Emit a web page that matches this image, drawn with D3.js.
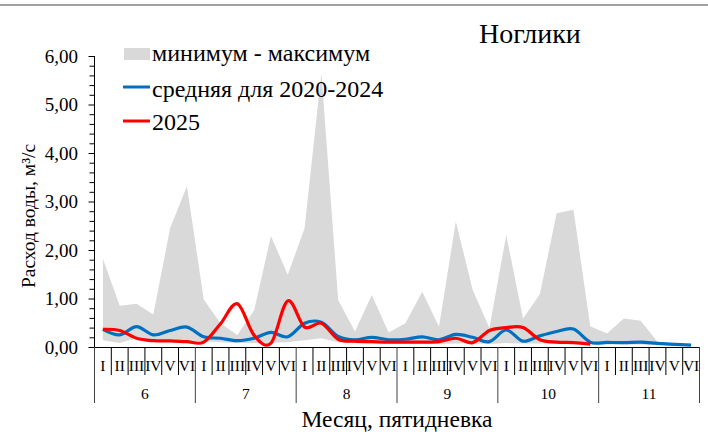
<!DOCTYPE html>
<html><head><meta charset="utf-8">
<script src="https://cdn.jsdelivr.net/npm/d3@7/dist/d3.min.js"></script>
<style>
html,body{margin:0;padding:0;background:#fff;}
svg{display:block;}
text{font-family:"Liberation Serif","Times New Roman",serif;fill:#000;}
</style></head>
<body>
<svg id="chart" width="708" height="436" font-family="Liberation Serif, Times New Roman, serif"></svg>
<script>
const months = ["6","7","8","9","10","11"];
const pentads = ["I","II","III","IV","V","VI"];
const yTicks = [0,1,2,3,4,5,6];
const maxVals = [1.82,0.85,0.89,0.67,2.45,3.32, 0.98,0.49,0.25,0.76,2.29,1.49, 2.45,5.65,0.97,0.32,1.07,0.30, 0.49,1.14,0.42,2.59,1.18,0.39, 2.31,0.59,1.09,2.76,2.83,0.43, 0.28,0.59,0.54,0.11,0.07,0.05];
const minVals = [0.14,0.08,0.18,0.14,0.12,0.10, 0.12,0.10,0.08,0.08,0.09,0.10, 0.14,0.18,0.10,0.08,0.07,0.07, 0.07,0.07,0.06,0.07,0.07,0.06, 0.08,0.07,0.07,0.06,0.06,0.05, 0.05,0.05,0.05,0.04,0.03,0.03];
const meanVals = [0.365,0.25,0.42,0.25,0.34,0.41, 0.21,0.18,0.13,0.18,0.30,0.21, 0.49,0.51,0.22,0.15,0.20,0.15, 0.16,0.21,0.15,0.26,0.20,0.11, 0.35,0.12,0.23,0.32,0.37,0.10, 0.095,0.09,0.10,0.075,0.055,0.04];
const val2025 = [0.365,0.34,0.18,0.13,0.125,0.11, 0.10,0.48,0.89,0.24,0.08,0.95, 0.41,0.49,0.16,0.12,0.11,0.10, 0.10,0.10,0.11,0.18,0.09,0.34, 0.40,0.40,0.15,0.10,0.09,0.06];

const FONT = "'Liberation Serif', 'Times New Roman', serif";
const svg = d3.select("#chart");
const L = 94.5, R = 699.5, T = 56, B = 347;
const n = months.length * pentads.length;
const x = d3.scaleBand().domain(d3.range(n)).range([L, R]).padding(0);
const xc = i => x(i) + x.bandwidth() / 2;
const y = d3.scaleLinear().domain([0, 6]).range([B, T]);

function txt(parent, tx, ty, str, size, anchor) {
  return parent.append("text").attr("x", tx).attr("y", ty)
    .attr("text-anchor", anchor || "start")
    .attr("font-family", FONT)
    .attr("font-size", size).text(str);
}

// top border
svg.append("line").attr("x1",0).attr("x2",708).attr("y1",5).attr("y2",5)
  .attr("stroke","#808080").attr("stroke-width",1.5);

// area
const area = d3.area().x((d,i)=>xc(i)).y0((d,i)=>y(minVals[i])).y1(d=>y(d));
svg.append("path").datum(maxVals).attr("d", area).attr("fill","#d9d9d9");

const line = d3.line().x((d,i)=>xc(i)).y(d=>y(d)).curve(d3.curveCardinal.tension(0));
svg.append("path").datum(meanVals).attr("d", line).attr("fill","none")
  .attr("stroke","#0070c0").attr("stroke-width",3.2).attr("stroke-linejoin","round");
svg.append("path").datum(val2025).attr("d", line).attr("fill","none")
  .attr("stroke","#ff0000").attr("stroke-width",3.2).attr("stroke-linejoin","round");

// y axis
const yAxis = d3.axisLeft(y).tickValues(d3.range(0, 6.01, 0.2)).tickSize(6).tickFormat("");
const gy = svg.append("g").attr("transform",`translate(${L},0)`).call(yAxis);
gy.attr("font-family", null);
gy.select(".domain").attr("stroke","#000").attr("d",`M-0,${B}V${T}`);
gy.selectAll(".tick line").attr("stroke","#000").attr("x2", d => Math.abs(d - Math.round(d)) < 1e-6 ? -6 : -5);
const gyl = svg.append("g");
yTicks.forEach(d => {
  txt(gyl, 78, y(d) + 6.5, d3.format(".2f")(d).replace(".", ","), 19, "end");
});

// x axis
svg.append("line").attr("x1",L).attr("x2",R).attr("y1",B+0.5).attr("y2",B+0.5).attr("stroke","#000");
const gx = svg.append("g");
d3.range(n + 1).forEach(i => {
  const xx = i < n ? x(i) : R;
  const isMonth = i % 6 === 0;
  gx.append("line").attr("x1", xx).attr("x2", xx).attr("y1", B).attr("y2", isMonth ? 403 : 375)
    .attr("stroke", isMonth ? "#404040" : "#000").attr("stroke-width", 1);
});
d3.range(n).forEach(i => txt(gx, xc(i), 370.5, pentads[i % 6], 15.5, "middle"));
months.forEach((d, k) => {
  const cx = (x(k*6) + (k*6+6 < n ? x(k*6+6) : R)) / 2;
  txt(gx, cx, 398.5, d, 15.5, "middle");
});

// axis titles
txt(svg, 397, 427, "Месяц, пятидневка", 23.5, "middle");
svg.append("text").attr("transform","translate(35,216) rotate(-90)").attr("text-anchor","middle")
  .attr("font-family", FONT).attr("font-size", 19.5).text("Расход воды, м³/с");

// title
txt(svg, 479, 43, "Ноглики", 28, "start");

// legend
const lg = svg.append("g");
lg.append("rect").attr("x",124).attr("y",48).attr("width",26).attr("height",12).attr("fill","#d9d9d9");
txt(lg, 152, 61, "минимум - максимум", 24);
lg.append("line").attr("x1",123).attr("x2",150).attr("y1",87).attr("y2",87).attr("stroke","#0070c0").attr("stroke-width",3);
txt(lg, 152, 96.5, "средняя для 2020-2024", 24);
lg.append("line").attr("x1",123).attr("x2",150).attr("y1",121).attr("y2",121).attr("stroke","#ff0000").attr("stroke-width",3);
txt(lg, 152, 130, "2025", 24);
</script>
</body></html>
